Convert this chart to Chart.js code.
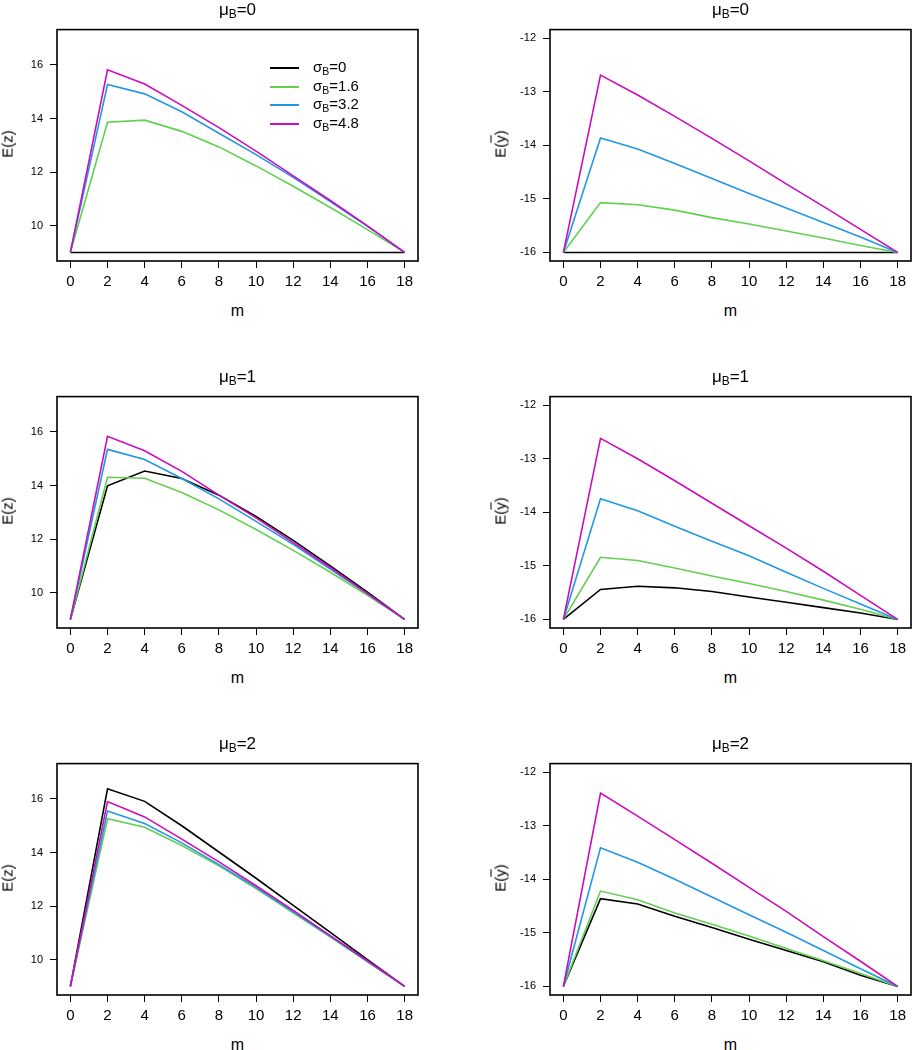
<!DOCTYPE html>
<html>
<head>
<meta charset="utf-8">
<script src="https://cdn.jsdelivr.net/npm/chart.js@4.4.1/dist/chart.umd.min.js"></script>
<style>
  html, body { margin: 0; padding: 0; background: #fff; overflow: hidden; }
  #page { position: relative; width: 912px; height: 1050px; overflow: hidden;
          font-family: "Liberation Sans", Arial, Helvetica, sans-serif; color: #000; }
  .panel { position: absolute; }
  .lbl { position: absolute; white-space: nowrap; line-height: 1; transform: translate(-50%, -50%); }
  .rot { transform: translate(-50%, -50%) rotate(-90deg); }
  sub { font-size: 70%; vertical-align: -0.28em; line-height: 0; }
  .ov { text-decoration: overline; }
  .leg { position: absolute; left: 270px; font-size: 15px; line-height: 1; }
  .leg div { position: relative; height: 18.7px; }
  .leg i { position: absolute; left: 0; top: 0; width: 29px; height: 0; border-top: 2px solid; }
  .leg span { position: absolute; left: 43px; top: -8px; white-space: nowrap; }
</style>
</head>
<body>
<div id="page"></div>
<script>
// m values on the x axis
const mValues = [0, 2, 4, 6, 8, 10, 12, 14, 16, 18];
const sigmaLabels = ["0", "1.6", "3.2", "4.8"];
const muLabels = ["0", "1", "2"];
const xTicks = [0, 2, 4, 6, 8, 10, 12, 14, 16, 18];
const ezTicks = [10, 12, 14, 16];
const eyTicks = [-16, -15, -14, -13, -12];

// E(z), one row per sigma_B (0, 1.6, 3.2, 4.8)
const ezMu0 = [
  [9, 9, 9, 9, 9, 9, 9, 9, 9, 9],
  [9, 13.86, 13.94, 13.52, 12.94, 12.23, 11.47, 10.68, 9.85, 9],
  [9, 15.27, 14.92, 14.25, 13.45, 12.65, 11.80, 10.90, 9.97, 9],
  [9, 15.82, 15.29, 14.49, 13.66, 12.78, 11.86, 10.94, 9.99, 9]
];
const ezMu1 = [
  [9, 13.99, 14.54, 14.26, 13.64, 12.85, 11.95, 11.00, 10.02, 9],
  [9, 14.31, 14.27, 13.74, 13.09, 12.36, 11.58, 10.76, 9.90, 9],
  [9, 15.35, 14.97, 14.26, 13.50, 12.66, 11.80, 10.88, 9.96, 9],
  [9, 15.84, 15.30, 14.53, 13.64, 12.79, 11.87, 10.94, 9.96, 9]
];
const ezMu2 = [
  [9, 16.38, 15.91, 15.00, 14.02, 13.04, 12.03, 11.02, 10.00, 9],
  [9, 15.26, 14.94, 14.26, 13.50, 12.65, 11.75, 10.84, 9.92, 9],
  [9, 15.55, 15.08, 14.36, 13.55, 12.70, 11.79, 10.87, 9.94, 9],
  [9, 15.90, 15.33, 14.50, 13.65, 12.76, 11.84, 10.90, 9.96, 9]
];

// E(y bar), same layout
const eyMu0 = [
  [-16, -16, -16, -16, -16, -16, -16, -16, -16, -16],
  [-16, -15.07, -15.11, -15.21, -15.35, -15.47, -15.60, -15.73, -15.87, -16],
  [-16, -13.865, -14.07, -14.34, -14.62, -14.90, -15.17, -15.44, -15.71, -16],
  [-16, -12.69, -13.06, -13.46, -13.87, -14.29, -14.72, -15.14, -15.57, -16]
];
const eyMu1 = [
  [-16, -15.44, -15.38, -15.41, -15.48, -15.58, -15.68, -15.78, -15.88, -16],
  [-16, -14.84, -14.90, -15.04, -15.19, -15.33, -15.48, -15.64, -15.81, -16],
  [-16, -13.745, -13.97, -14.26, -14.54, -14.81, -15.12, -15.42, -15.71, -16],
  [-16, -12.62, -13.00, -13.41, -13.83, -14.25, -14.67, -15.10, -15.55, -16]
];
const eyMu2 = [
  [-16, -14.36, -14.46, -14.69, -14.90, -15.12, -15.33, -15.54, -15.79, -16],
  [-16, -14.22, -14.38, -14.63, -14.84, -15.06, -15.29, -15.52, -15.76, -16],
  [-16, -13.41, -13.68, -14.00, -14.33, -14.66, -14.99, -15.33, -15.67, -16],
  [-16, -12.39, -12.82, -13.26, -13.70, -14.15, -14.60, -15.07, -15.53, -16]
];

const colors = ["#000000", "#61D04F", "#2297E6", "#CD0BBC"];
const page = document.getElementById("page");

// plot box geometry (pixels)
const cols = [{ left: 57, width: 361 }, { left: 550, width: 361 }];
const rows = [{ top: 26, height: 235 }, { top: 393, height: 235 }, { top: 760, height: 235 }];
const padL = 56, padT = 10, padR = 10, padB = 40;

const boxPlugin = {
  id: "box",
  afterDraw(chart) {
    const a = chart.chartArea, c = chart.ctx;
    c.save();
    c.strokeStyle = "#000";
    c.lineWidth = 1.6;
    c.strokeRect(a.left, a.top, a.right - a.left, a.bottom - a.top);
    c.restore();
  }
};

function addLabel(html, x, y, size, cls) {
  const d = document.createElement("div");
  d.className = "lbl" + (cls ? " " + cls : "");
  d.style.left = x + "px";
  d.style.top = y + "px";
  d.style.fontSize = size + "px";
  d.innerHTML = html;
  page.appendChild(d);
}

function makePanel(col, row, series, yMin, yMax, yTicks, yLabelHtml, mu) {
  const g = cols[col], r = rows[row];
  const wrap = document.createElement("div");
  wrap.className = "panel";
  const W = g.width + padL + padR, H = r.height + padT + padB;
  wrap.style.left = (g.left - padL) + "px";
  wrap.style.top = (r.top - padT) + "px";
  wrap.style.width = W + "px";
  wrap.style.height = H + "px";
  const cv = document.createElement("canvas");
  wrap.appendChild(cv);
  page.appendChild(wrap);

  const datasets = series.map((vals, i) => ({
    label: "sigmaB=" + sigmaLabels[i],
    data: mValues.map((m, j) => ({ x: m, y: vals[j] })),
    borderColor: colors[i],
    borderWidth: 1.6,
    pointRadius: 0,
    tension: 0,
    order: 3 - i
  }));

  new Chart(cv, {
    type: "line",
    data: { datasets: datasets },
    options: {
      responsive: true,
      maintainAspectRatio: false,
      animation: false,
      layout: { padding: { left: 0, top: padT, right: padR, bottom: 0 } },
      plugins: { legend: { display: false }, tooltip: { enabled: false } },
      scales: {
        x: {
          type: "linear",
          min: -0.72,
          max: 18.72,
          afterBuildTicks: (s) => { s.ticks = xTicks.map((v) => ({ value: v })); },
          afterFit: (s) => { s.height = padB; },
          grid: { drawOnChartArea: false, tickLength: 7, color: "#000", lineWidth: 1 },
          border: { display: false },
          ticks: {
            color: "#000", padding: 5, maxRotation: 0, autoSkip: false,
            font: { family: "Liberation Sans, Arial", size: 15 }
          }
        },
        y: {
          min: yMin,
          max: yMax,
          afterBuildTicks: (s) => { s.ticks = yTicks.map((v) => ({ value: v })); },
          afterFit: (s) => { s.width = padL; },
          grid: { drawOnChartArea: false, tickLength: 7, color: "#000", lineWidth: 1 },
          border: { display: false },
          ticks: {
            color: "#000", padding: 7, autoSkip: false,
            font: { family: "Liberation Sans, Arial", size: 11 }
          }
        }
      }
    },
    plugins: [boxPlugin]
  });

  const cx = g.left + g.width / 2;
  addLabel("&mu;<sub>B</sub>=" + mu, cx, r.top - 17, 17);
  addLabel("m", cx, r.top + r.height + 50, 16);
  addLabel(yLabelHtml, g.left - 50, r.top + r.height / 2, 15, "rot");
}

const ezLab = "E(z)";
const eyLab = "E(<span class=\"ov\">y</span>)";

makePanel(0, 0, ezMu0, 8.68, 17.32, ezTicks, ezLab, muLabels[0]);
makePanel(1, 0, eyMu0, -16.16, -11.84, eyTicks, eyLab, muLabels[0]);
makePanel(0, 1, ezMu1, 8.68, 17.32, ezTicks, ezLab, muLabels[1]);
makePanel(1, 1, eyMu1, -16.16, -11.84, eyTicks, eyLab, muLabels[1]);
makePanel(0, 2, ezMu2, 8.68, 17.32, ezTicks, ezLab, muLabels[2]);
makePanel(1, 2, eyMu2, -16.16, -11.84, eyTicks, eyLab, muLabels[2]);

// legend inside the first panel
const leg = document.createElement("div");
leg.className = "leg";
leg.style.top = "67px";
leg.innerHTML = sigmaLabels.map((s, i) =>
  "<div><i style=\"border-color:" + colors[i] + "\"></i><span>&sigma;<sub>B</sub>=" + s + "</span></div>"
).join("");
page.appendChild(leg);
</script>
</body>
</html>
